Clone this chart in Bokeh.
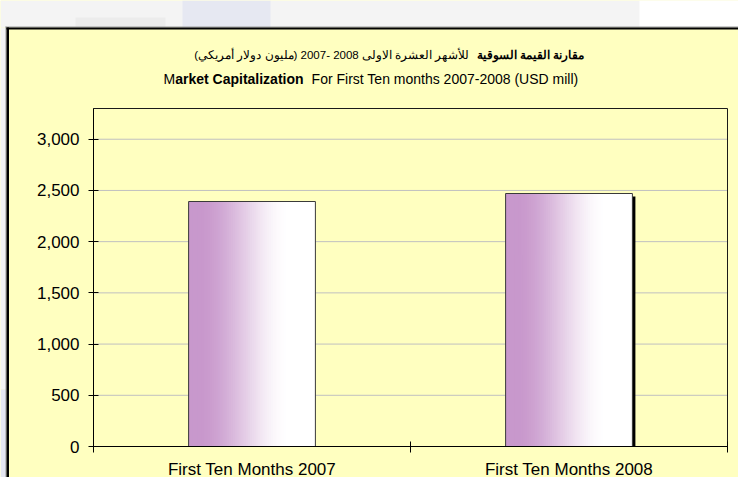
import numpy as np
from bokeh.plotting import figure
from bokeh.models import Range1d, FixedTicker, NumeralTickFormatter, ColumnDataSource
from bokeh.core.properties import value
from bokeh.embed import file_html
from bokeh.resources import INLINE

# ---------------- data ----------------
categories = ["First Ten Months 2007", "First Ten Months 2008"]
values = [2392, 2470]
y_ticks = [0, 500, 1000, 1500, 2000, 2500, 3000]
y_max = 3300

title_ar_bold = "مقارنة القيمة السوقية"
title_ar_rest = "للأشهر العشرة الاولى  2008 -2007 (مليون دولار أمريكي)"
title_en_1 = "M"
title_en_2 = "arket Capitalization"
title_en_3 = "For First  Ten months 2007-2008 (USD mill)"

FONT = "Liberation Sans"
YELLOW = "#FFFFC0"
W, H = 738, 477

# pixel layout of the plot area inside the canvas
PL, PR, PT, PB = 93, 727, 108, 446
n_cat = len(categories)


def X(px):   # canvas pixel -> data x
    return (px - PL) * n_cat / (PR - PL)


def Y(py):   # canvas pixel -> data y
    return (PB - py) * y_max / (PB - PT)


p = figure(width=W, height=H, output_backend="svg", toolbar_location=None,
           x_range=Range1d(X(0), X(W)), y_range=Range1d(Y(H), Y(0)),
           min_border=0, min_border_left=0, min_border_right=0,
           min_border_top=0, min_border_bottom=0)
p.background_fill_color = YELLOW
p.border_fill_color = YELLOW
p.outline_line_color = None
p.grid.visible = False


def rect(l, r, t, b, color):
    p.quad(left=[X(l)], right=[X(r)], top=[Y(t)], bottom=[Y(b)],
           fill_color=color, line_color=None)


# ---------------- page decorations around the chart box ----------------
rect(0, W, 0, 27, "#F4F4F4")
rect(639, W, 0, 27, "#FFFFFF")
rect(182, 270, 0, 27, "#E6E8F2")
rect(75, 165, 17, 27, "#ECECEC")
rect(0, 6, 27, 389, "#F4F4F4")
rect(0, 6, 389, H, "#E4E6F1")
rect(5, 6, 26, H, "#9A9A9A")
rect(5, W, 26, 27, "#9A9A9A")
rect(6, 8.5, 27, H, "#000000")
rect(6, W, 27, 29, "#000000")

# ---------------- gridlines ----------------
grid_vals = [t for t in y_ticks if t > 0]
p.segment(x0=[0] * len(grid_vals), x1=[n_cat] * len(grid_vals), y0=grid_vals, y1=grid_vals,
          line_color="#C0C0C0", line_width=1)

# plot-area border
p.quad(left=[0], right=[n_cat], bottom=[0], top=[y_max], fill_color=None,
       line_color="#1a1a1a", line_width=1)

# ---------------- bars with horizontal gradient ----------------
bw = 0.4
n = 60
purple = np.array([200, 152, 204])
white = np.array([255, 255, 255])


def grad(t):
    f = np.clip((t - 0.08) / 0.72, 0, 1)
    f = f * f * (3 - 2 * f)
    c = purple + (white - purple) * f
    return "#%02x%02x%02x" % tuple(int(round(x)) for x in c)


centers = [i + 0.5 for i in range(n_cat)]
sdx = X(PL + 3)          # 3 px shadow offset
sdy = Y(PB - 3)
p.quad(left=[centers[1] - bw / 2 + sdx], right=[centers[1] + bw / 2 + sdx],
       top=[values[1] - sdy], bottom=[0], fill_color="black", line_color=None)

L, R, T, B, C = [], [], [], [], []
for i, v in enumerate(values):
    c = centers[i]
    for k in range(n):
        t = (k + 0.5) / n
        L.append(c - bw / 2 + bw * k / n)
        R.append(min(c - bw / 2 + bw * (k + 1.6) / n, c + bw / 2))
        T.append(v)
        B.append(0)
        C.append(grad(t))
p.quad(left="l", right="r", top="t", bottom="b", fill_color="c", line_color=None,
       source=ColumnDataSource(dict(l=L, r=R, t=T, b=B, c=C)))

p.quad(left=[c - bw / 2 for c in centers], right=[c + bw / 2 for c in centers],
       top=values, bottom=[0] * n_cat, fill_color=None,
       line_color="#3a3a3a", line_width=1)

# ---------------- axes (placed at the plot-area edges) ----------------
xa = p.xaxis[0]
xa.fixed_location = 0
xa.bounds = (0, n_cat)
xa.ticker = FixedTicker(ticks=centers, minor_ticks=list(range(n_cat + 1)))
xa.major_label_overrides = {centers[i]: categories[i] for i in range(n_cat)}
xa.major_tick_line_color = None
xa.major_tick_out = 0
xa.major_tick_in = 0
xa.minor_tick_line_color = "black"
xa.minor_tick_in = 5
xa.minor_tick_out = 6
xa.major_label_standoff = 7
xa.axis_line_color = "black"
xa.major_label_text_font = FONT
xa.major_label_text_font_size = "17px"
xa.major_label_text_color = "black"

ya = p.yaxis[0]
ya.fixed_location = 0
ya.bounds = (0, y_max)
ya.ticker = FixedTicker(ticks=y_ticks)
ya.formatter = NumeralTickFormatter(format="0,0")
ya.major_tick_in = 5
ya.major_tick_out = 5
ya.minor_tick_line_color = None
ya.major_tick_line_color = "black"
ya.axis_line_color = "black"
ya.major_label_standoff = 9
ya.major_label_text_font = FONT
ya.major_label_text_font_size = "17px"
ya.major_label_text_color = "black"

# ---------------- title (mixed weights) ----------------
def txt(px, py, s, bold=False, size="14px", align="left"):
    p.text(x=[X(px)], y=[Y(py)], text=[s], text_font=value(FONT), text_font_size=size,
           text_font_style="bold" if bold else "normal",
           text_baseline="middle", text_align=align, text_color="black")


RLE, PDF = "\u202B", "\u202C"
y_ar, y_en = 54, 78
ar_split = 476
txt(ar_split, y_ar, title_ar_bold, bold=True, size="11.5px", align="left")
txt(ar_split - 4, y_ar, RLE + title_ar_rest + PDF, size="11.5px", align="right")

x0 = 163
txt(x0, y_en, title_en_1)
txt(x0 + 11.7, y_en, title_en_2, bold=True)
txt(x0 + 11.7 + 128.4 + 8, y_en, title_en_3)

open("out.html", "w").write(file_html(p, INLINE))
